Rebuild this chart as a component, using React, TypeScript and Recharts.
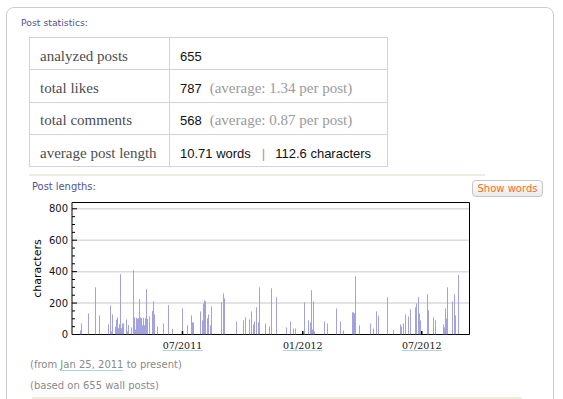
import React from "react";
import {
  BarChart,
  Bar,
  XAxis,
  YAxis,
  CartesianGrid,
  ReferenceArea,
} from "recharts";

// post dates, as days since Jan 1, 2011
const POST_DAYS = [
  25, 27, 37, 48, 54, 68, 71, 72, 74, 78, 80, 81, 83, 85, 86, 88, 89, 91, 95, 97,
  98, 103, 106, 108, 109, 111, 112, 114, 115, 117, 118, 120, 121, 123, 124, 126,
  127, 130, 135, 137, 138, 143, 152, 160, 166, 181, 189, 195, 196, 198, 208, 212,
  213, 215, 216, 219, 221, 224, 225, 241, 244, 245, 264, 274, 277, 284, 287, 290,
  291, 294, 297, 299, 308, 314, 317, 325, 340, 346, 351, 354, 368, 374, 377, 378,
  380, 381, 383, 398, 403, 417, 423, 427, 441, 443, 444, 446, 452, 469, 473, 478,
  481, 495, 504, 515, 516, 519, 522, 527, 530, 538, 539, 542, 544, 545, 556, 557,
  565, 568, 580, 582, 583, 585, 586, 594, 597, 599, 603,
];

// post length in characters
const POST_CHARS = [
  26, 70, 134, 300, 121, 64, 185, 19, 128, 51, 94, 109, 40, 66, 384, 40, 70, 70,
  96, 19, 60, 45, 410, 109, 32, 107, 100, 104, 226, 109, 104, 60, 107, 58, 104,
  290, 100, 115, 149, 211, 128, 51, 70, 187, 36, 166, 58, 121, 77, 77, 147, 90,
  196, 217, 211, 102, 128, 58, 179, 205, 262, 230, 83, 90, 109, 96, 147, 64, 83,
  173, 77, 300, 70, 51, 294, 237, 45, 83, 38, 38, 205, 90, 77, 282, 32, 211, 19,
  83, 70, 166, 83, 26, 141, 141, 134, 371, 58, 70, 38, 147, 121, 237, 26, 64, 51,
  70, 128, 115, 160, 173, 198, 237, 134, 90, 256, 154, 109, 90, 64, 45, 166, 102,
  300, 211, 256, 121, 378,
];

const X_TICKS = [181, 365, 547];
const X_TICK_LABELS = ["07/2011", "01/2012", "07/2012"];
const Y_TICKS = [0, 50, 100, 150, 200, 250, 300, 350, 400, 450, 500, 550, 600, 650, 700, 750, 800];
const Y_GRID = [200, 400, 600, 800];

const STAT_LABELS = ["analyzed posts", "total likes", "total comments", "average post length"];

const data = POST_DAYS.map((day, i) => ({ day, chars: POST_CHARS[i] }));

const BAR_COLOR = "#a2a2df";
const LINK_LINE = "#aed3e2";

function XTick(props: any) {
  const { x, y, payload } = props;
  const label = X_TICK_LABELS[X_TICKS.indexOf(payload.value)];
  return (
    <g>
      <line x1={x} x2={x} y1={y} y2={y - 3.5} stroke="#000" strokeWidth={1.5} />
      <text
        x={x}
        y={y + 14.5}
        textAnchor="middle"
        fontFamily="DejaVu Serif"
        fontSize={9.5}
        fill="#111"
      >
        {label}
      </text>
      <line x1={x - 20} x2={x + 20} y1={y + 16} y2={y + 16} stroke={LINK_LINE} strokeWidth={1} />
    </g>
  );
}

function YTick(props: any) {
  const { x, y, payload } = props;
  const major = payload.value % 200 === 0;
  return (
    <g>
      <line x1={x + 4} x2={x + 4 + (major ? 5 : 3)} y1={y} y2={y} stroke="#000" strokeWidth={1} />
      {major && (
        <text
          x={x}
          y={y}
          dy="0.36em"
          textAnchor="end"
          fontFamily="DejaVu Sans"
          fontSize={10}
          fill="#111"
        >
          {payload.value}
        </text>
      )}
    </g>
  );
}

function ThinBar(props: any) {
  const { x, y, width, height } = props;
  if (!height || height <= 0) return null;
  const left = Math.round(x + width / 2 - 0.5);
  return <rect x={left} y={y} width={1} height={height} fill={BAR_COLOR} />;
}

const cellLeft: React.CSSProperties = {
  border: "1px solid #d3d3d3",
  padding: "5px 0 0 10px",
  fontFamily: "Liberation Serif",
  fontSize: 15,
  color: "#4d4d4d",
  width: 129,
  verticalAlign: "middle",
};

const cellRight: React.CSSProperties = {
  border: "1px solid #d3d3d3",
  padding: "5px 0 0 10px",
  fontFamily: "Liberation Sans",
  fontSize: 13,
  color: "#111",
  verticalAlign: "middle",
};

const note: React.CSSProperties = {
  fontFamily: "Liberation Serif",
  fontSize: 15,
  color: "#9a9a9a",
  marginLeft: 8,
};

export default function App() {
  const statValues = [
    <span>655</span>,
    <span>
      787<span style={note}>(average: 1.34 per post)</span>
    </span>,
    <span>
      568<span style={note}>(average: 0.87 per post)</span>
    </span>,
    <span>
      10.71 words<span style={{ color: "#999", margin: "0 10px 0 11px" }}>|</span>112.6 characters
    </span>,
  ];

  return (
    <div
      style={{
        position: "absolute",
        left: 0,
        top: 0,
        width: 563,
        height: 399,
        overflow: "hidden",
        background: "#fff",
        fontFamily: "DejaVu Sans",
      }}
    >
      <div
        style={{
          position: "absolute",
          left: 6,
          top: 7,
          width: 546,
          height: 440,
          border: "1px solid #cdcdcd",
          borderRadius: 8,
        }}
      />
      <div
        style={{
          position: "absolute",
          left: 21,
          top: 17,
          fontSize: 9.3,
          lineHeight: "12px",
          color: "#52528f",
        }}
      >
        Post statistics:
      </div>

      <table
        style={{
          position: "absolute",
          left: 29,
          top: 37,
          width: 359,
          borderCollapse: "collapse",
        }}
      >
        <tbody>
          {STAT_LABELS.map((label, i) => (
            <tr key={label} style={{ height: 32.3 }}>
              <td style={cellLeft}>{label}</td>
              <td style={cellRight}>{statValues[i]}</td>
            </tr>
          ))}
        </tbody>
      </table>

      <div
        style={{
          position: "absolute",
          left: 29,
          top: 174,
          width: 456,
          height: 2,
          background: "#f0ecdc",
        }}
      />

      <div
        style={{
          position: "absolute",
          left: 32,
          top: 181,
          fontSize: 9.9,
          lineHeight: "12px",
          color: "#52528f",
        }}
      >
        Post lengths:
      </div>

      <div
        style={{
          position: "absolute",
          left: 472,
          top: 180,
          width: 71,
          height: 17,
          boxSizing: "border-box",
          border: "1px solid #c6c6c6",
          borderRadius: 4,
          background: "linear-gradient(#ffffff, #ebebeb)",
          color: "#ff6a14",
          fontSize: 10,
          lineHeight: "15px",
          textAlign: "center",
        }}
      >
        Show words
      </div>

      <div style={{ position: "absolute", left: 0, top: 195 }}>
        <BarChart
          width={480}
          height={170}
          data={data}
          margin={{ top: 7.5, right: 10.5, bottom: 0.5, left: 2 }}
        >
          <CartesianGrid
            vertical={false}
            horizontalValues={Y_GRID}
            stroke="#dadada"
            strokeWidth={1.5}
          />
          <XAxis
            type="number"
            dataKey="day"
            domain={[12, 620]}
            ticks={X_TICKS}
            allowDataOverflow
            axisLine={false}
            tickLine={false}
            tickSize={0}
            tickMargin={0}
            height={30}
            tick={<XTick />}
          />
          <YAxis
            type="number"
            domain={[0, 840]}
            ticks={Y_TICKS}
            allowDataOverflow
            axisLine={false}
            tickLine={false}
            tickSize={0}
            tickMargin={4}
            width={70}
            interval={0}
            tick={<YTick />}
            label={{
              value: "characters",
              angle: -90,
              position: "center",
              fontFamily: "DejaVu Sans",
              fontSize: 11,
              fill: "#000",
            }}
          />
          <Bar dataKey="chars" fill={BAR_COLOR} shape={<ThinBar />} isAnimationActive={false} />
          <ReferenceArea
            x1={12}
            x2={620}
            y1={0}
            y2={840}
            fill="none"
            fillOpacity={0}
            stroke="#000"
            strokeWidth={1}
          />
        </BarChart>
      </div>

      <div
        style={{
          position: "absolute",
          left: 30,
          top: 359,
          fontSize: 10,
          lineHeight: "12px",
          color: "#8a8a8a",
        }}
      >
        (from <span style={{ borderBottom: `1px solid ${LINK_LINE}` }}>Jan 25, 2011</span> to present)
      </div>
      <div
        style={{
          position: "absolute",
          left: 30,
          top: 380,
          fontSize: 10,
          lineHeight: "12px",
          color: "#8a8a8a",
        }}
      >
        (based on 655 wall posts)
      </div>
      <div
        style={{
          position: "absolute",
          left: 32,
          top: 397,
          width: 490,
          height: 2,
          background: "#f0ecdc",
        }}
      />
    </div>
  );
}
